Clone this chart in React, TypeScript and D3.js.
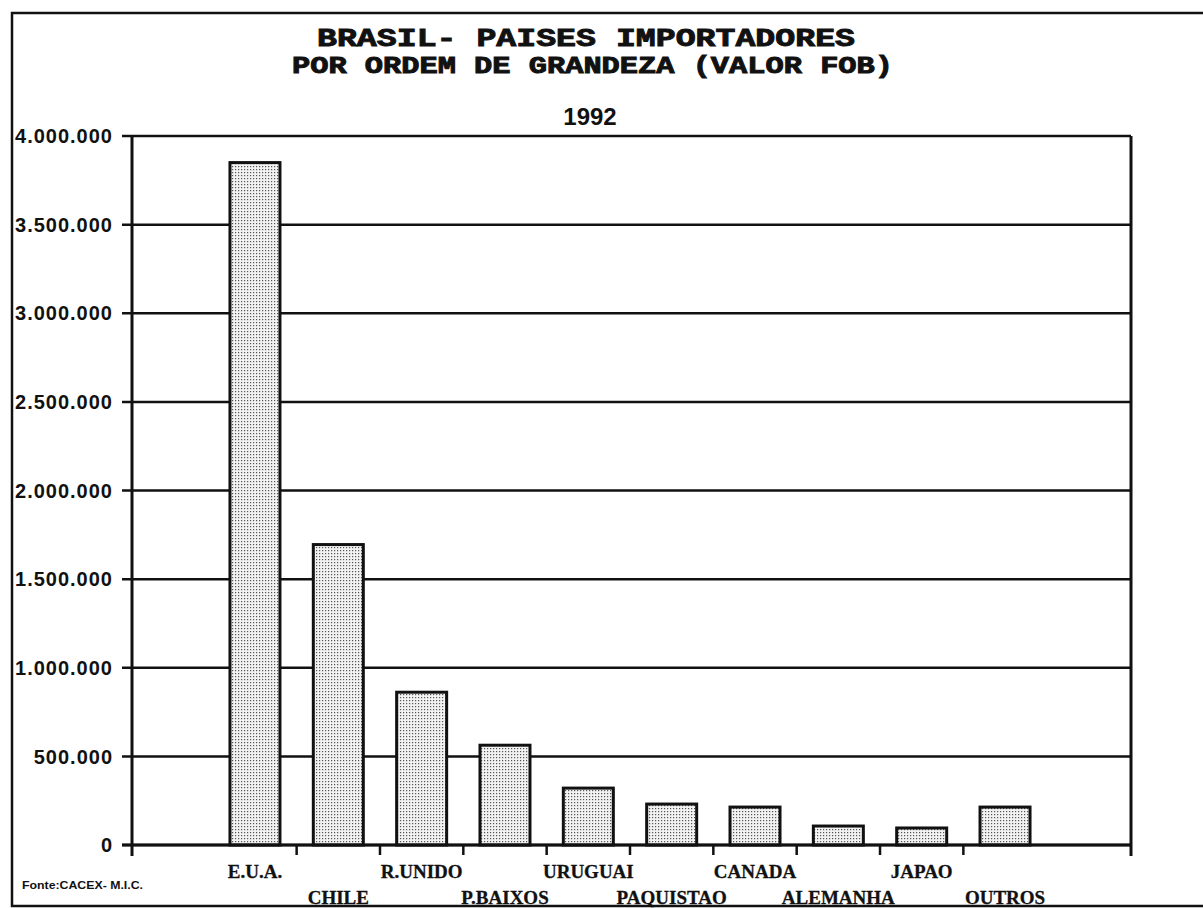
import React from "react";
import * as d3 from "d3";

const categories = ["E.U.A.", "CHILE", "R.UNIDO", "P.BAIXOS", "URUGUAI", "PAQUISTAO", "CANADA", "ALEMANHA", "JAPAO", "OUTROS"];
const values = [3850000, 1695000, 862000, 563000, 321000, 231000, 214000, 107000, 96000, 214000];
const yTicks = [0, 500000, 1000000, 1500000, 2000000, 2500000, 3000000, 3500000, 4000000];
const titleLines = ["BRASIL- PAISES IMPORTADORES", "POR ORDEM DE GRANDEZA (VALOR FOB)"];
const yearLabel = "1992";
const sourceNote = "Fonte:CACEX- M.I.C.";

const W = 1203;
const H = 908;
const plot = { left: 132, right: 1131, top: 136, bottom: 845 };

export default function App() {
  const y = d3.scaleLinear().domain([0, 4000000]).range([plot.bottom, plot.top]);
  const x = d3.scaleBand<string>().domain(categories).range([213.3, 1046.7]).padding(0);
  const bw = x.bandwidth();
  const barW = bw * 0.6;
  const fmt = (v: number) => d3.format(",")(v).replace(/,/g, ".");
  const boundaries = categories.slice(1).map((c) => x(c) as number);

  return (
    <svg width={W} height={H} style={{ position: "absolute", left: 0, top: 0, background: "#fff" }}>
      <defs>
        <pattern id="dots" width="3" height="3" patternUnits="userSpaceOnUse">
          <rect width="3" height="3" fill="#f2f2f2" />
          <rect x="1" y="1" width="1.2" height="1.2" fill="#555" />
        </pattern>
        <clipPath id="frameClip">
          <rect x={13} y={13} width={W} height={893} />
        </clipPath>
      </defs>
      <rect width={W} height={H} fill="#fff" />

      {/* titles */}
      <text x={317} y={46} fontFamily="Liberation Mono" fontWeight="bold" fontSize={25} textLength={538} lengthAdjust="spacingAndGlyphs" fill="#111" stroke="#111" strokeWidth={0.9}>
        {titleLines[0]}
      </text>
      <text x={292} y={73} fontFamily="Liberation Mono" fontWeight="bold" fontSize={23} textLength={601} lengthAdjust="spacingAndGlyphs" fill="#111" stroke="#111" strokeWidth={0.9}>
        {titleLines[1]}
      </text>
      <text x={590} y={125} textAnchor="middle" fontFamily="Liberation Sans" fontWeight="bold" fontSize={24} fill="#111">
        {yearLabel}
      </text>

      {/* gridlines */}
      {yTicks.map((t) => (
        <line key={"g" + t} x1={plot.left - 10} x2={plot.right} y1={y(t)} y2={y(t)} stroke="#111" strokeWidth={2.5} />
      ))}

      {/* y labels */}
      <g clipPath="url(#frameClip)">
        {yTicks.map((t) => (
          <text key={"l" + t} x={113} y={y(t)} dy="0.36em" textAnchor="end" fontFamily="Liberation Sans" fontWeight="bold" fontSize={20} letterSpacing={1} fill="#111">
            {fmt(t)}
          </text>
        ))}
      </g>

      {/* bars */}
      {categories.map((c, i) => {
        const cx = (x(c) as number) + bw / 2;
        return (
          <rect key={c} x={cx - barW / 2} y={y(values[i])} width={barW} height={plot.bottom - y(values[i])} fill="url(#dots)" stroke="#111" strokeWidth={3} />
        );
      })}

      {/* axes */}
      <line x1={plot.left} x2={plot.left} y1={plot.top} y2={plot.bottom + 11} stroke="#111" strokeWidth={3} />
      <line x1={plot.right} x2={plot.right} y1={plot.top} y2={plot.bottom + 11} stroke="#111" strokeWidth={3} />
      <line x1={plot.left - 10} x2={plot.right} y1={plot.bottom} y2={plot.bottom} stroke="#111" strokeWidth={3} />
      {boundaries.map((b, i) => (
        <line key={"t" + i} x1={b} x2={b} y1={plot.bottom} y2={plot.bottom + 10} stroke="#111" strokeWidth={2.5} />
      ))}

      {/* x labels */}
      {categories.map((c, i) => {
        const cx = (x(c) as number) + bw / 2;
        return (
          <text key={"x" + c} x={cx} y={i % 2 === 0 ? 878 : 904} textAnchor="middle" fontFamily="Liberation Serif" fontWeight="bold" fontSize={19} fill="#111" stroke="#111" strokeWidth={0.3}>
            {c}
          </text>
        );
      })}

      <text x={22} y={889} fontFamily="Liberation Sans" fontWeight="bold" fontSize={11} textLength={121} lengthAdjust="spacingAndGlyphs" fill="#111">
        {sourceNote}
      </text>

      {/* outer frame */}
      <polyline points={`${W + 5},13 12,13 12,906 ${W + 5},906`} fill="none" stroke="#111" strokeWidth={2.5} />
    </svg>
  );
}
